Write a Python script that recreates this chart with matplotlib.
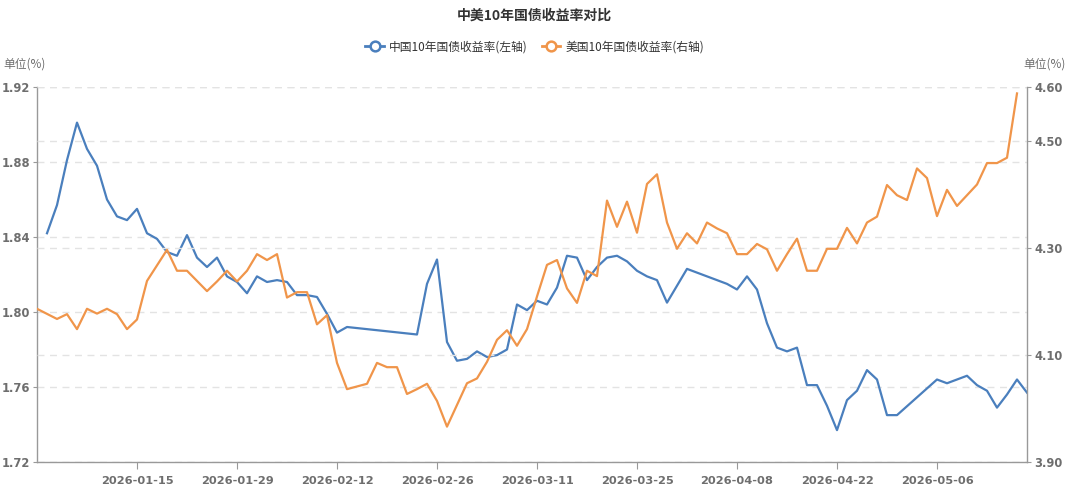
import numpy as np
import matplotlib
matplotlib.use("Agg")
import matplotlib.pyplot as plt
from matplotlib.lines import Line2D

plt.rcParams['font.family'] = ['Noto Sans CJK SC', 'DejaVu Sans']

# ------------------------------
# Datos (None = sin dato ese día)
# ------------------------------
fechas = [
    "2026-01-02", "2026-01-04", "2026-01-05", "2026-01-06", "2026-01-07", "2026-01-08", "2026-01-09",
    "2026-01-12", "2026-01-13", "2026-01-14", "2026-01-15", "2026-01-16", "2026-01-19", "2026-01-20",
    "2026-01-21", "2026-01-22", "2026-01-23", "2026-01-26", "2026-01-27", "2026-01-28", "2026-01-29",
    "2026-01-30", "2026-02-02", "2026-02-03", "2026-02-04", "2026-02-05", "2026-02-06", "2026-02-09",
    "2026-02-10", "2026-02-11", "2026-02-12", "2026-02-13", "2026-02-14", "2026-02-17", "2026-02-18",
    "2026-02-19", "2026-02-20", "2026-02-23", "2026-02-24", "2026-02-25", "2026-02-26", "2026-02-27",
    "2026-02-28", "2026-03-02", "2026-03-03", "2026-03-04", "2026-03-05", "2026-03-06", "2026-03-09",
    "2026-03-10", "2026-03-11", "2026-03-12", "2026-03-13", "2026-03-16", "2026-03-17", "2026-03-18",
    "2026-03-19", "2026-03-20", "2026-03-23", "2026-03-24", "2026-03-25", "2026-03-26", "2026-03-27",
    "2026-03-30", "2026-03-31", "2026-04-01", "2026-04-02", "2026-04-03", "2026-04-06", "2026-04-07",
    "2026-04-08", "2026-04-09", "2026-04-10", "2026-04-13", "2026-04-14", "2026-04-15", "2026-04-16",
    "2026-04-17", "2026-04-20", "2026-04-21", "2026-04-22", "2026-04-23", "2026-04-24", "2026-04-27",
    "2026-04-28", "2026-04-29", "2026-04-30", "2026-05-01", "2026-05-04", "2026-05-05", "2026-05-06",
    "2026-05-07", "2026-05-08", "2026-05-11", "2026-05-12", "2026-05-13", "2026-05-14", "2026-05-15",
    "2026-05-18", "2026-05-19",
]

china_10y = [
    None, 1.842, 1.857, 1.881, 1.901, 1.887, 1.878, 1.860, 1.851, 1.849,
    1.855, 1.842, 1.839, 1.832, 1.830, 1.841, 1.829, 1.824, 1.829, 1.819,
    1.816, 1.810, 1.819, 1.816, 1.817, 1.816, 1.809, 1.809, 1.808, 1.799,
    1.789, 1.792, None, None, None, None, None, None, 1.788, 1.815,
    1.828, 1.784, 1.774, 1.775, 1.779, 1.776, 1.777, 1.780, 1.804, 1.801,
    1.806, 1.804, 1.813, 1.830, 1.829, 1.817, 1.824, 1.829, 1.830, 1.827,
    1.822, 1.819, 1.817, 1.805, 1.814, 1.823, 1.821, 1.819, None, 1.815,
    1.812, 1.819, 1.812, 1.794, 1.781, 1.779, 1.781, 1.761, 1.761, 1.750,
    1.737, 1.753, 1.758, 1.769, 1.764, 1.745, 1.745, None, None, None,
    1.764, 1.762, 1.764, 1.766, 1.761, 1.758, 1.749, 1.756, 1.764, 1.757,
]

usa_10y = [
    4.186, None, 4.167, 4.176, 4.148, 4.186, 4.177, 4.186, 4.176, 4.148,
    4.166, 4.238, None, 4.296, 4.257, 4.257, 4.238, 4.219, 4.237, 4.257,
    4.237, 4.257, 4.288, 4.277, 4.288, 4.207, 4.217, 4.217, 4.157, 4.174,
    4.085, 4.036, None, 4.046, 4.085, 4.077, 4.077, 4.027, 4.036, 4.046,
    4.014, 3.966, None, 4.047, 4.056, 4.087, 4.128, 4.146, 4.117, 4.148,
    4.209, 4.268, 4.277, 4.224, 4.197, 4.257, 4.247, 4.388, 4.339, 4.386,
    4.328, 4.419, 4.437, 4.347, 4.298, 4.327, 4.308, 4.347, 4.336, 4.327,
    4.288, 4.288, 4.307, 4.297, 4.257, 4.288, 4.317, 4.257, 4.257, 4.298,
    4.298, 4.337, 4.308, 4.347, 4.358, 4.417, 4.398, 4.389, 4.448, 4.430,
    4.359, 4.408, 4.378, 4.398, 4.418, 4.458, 4.458, 4.468, 4.588, None,
]

etiquetas_x = ["2026-01-15", "2026-01-29", "2026-02-12", "2026-02-26", "2026-03-11",
               "2026-03-25", "2026-04-08", "2026-04-22", "2026-05-06"]

color_cn = "#4a7fbd"
color_us = "#f0954a"
gris = "#6e6e6e"

x = np.arange(len(fechas))
cn = np.array([np.nan if v is None else v for v in china_10y])
us = np.array([np.nan if v is None else v for v in usa_10y])
m_cn = ~np.isnan(cn)
m_us = ~np.isnan(us)

fig = plt.figure(figsize=(10.69, 5.04), dpi=100)
ax = fig.add_axes([37 / 1069, 42 / 504, 990 / 1069, 375 / 504])
ax2 = ax.twinx()

# lineas (los huecos se unen directamente)
ax.plot(x[m_cn], cn[m_cn], color=color_cn, lw=1.6, zorder=3)
ax2.plot(x[m_us], us[m_us], color=color_us, lw=1.6, zorder=3)

ax.set_xlim(0, len(fechas) - 1)
ax.set_ylim(1.72, 1.92)
ax.set_yticks([1.72, 1.76, 1.80, 1.84, 1.88, 1.92])
ax.set_yticklabels(["1.72", "1.76", "1.80", "1.84", "1.88", "1.92"])
ax2.set_ylim(3.90, 4.60)
ax2.set_yticks([3.90, 4.10, 4.30, 4.50, 4.60])
ax2.set_yticklabels(["3.90", "4.10", "4.30", "4.50", "4.60"])

pos_x = [fechas.index(f) for f in etiquetas_x]
ax.set_xticks(pos_x)
ax.set_xticklabels(etiquetas_x)

# rejilla discontinua de ambos ejes
ax.grid(axis='y', color='#e3e3e3', linestyle=(0, (5, 4)), lw=1)
ax2.grid(axis='y', color='#e3e3e3', linestyle=(0, (5, 4)), lw=1)
ax.set_axisbelow(True)
ax2.set_axisbelow(True)

for a in (ax, ax2):
    a.spines['top'].set_visible(False)
    for s in ('left', 'right', 'bottom'):
        a.spines[s].set_color('#999999')
        a.spines[s].set_linewidth(1)
ax.spines['right'].set_visible(False)
ax2.spines['left'].set_visible(False)
ax2.spines['bottom'].set_visible(False)

ax.tick_params(axis='y', length=3, color='#999999', labelcolor=gris, labelsize=8.3, pad=2)
ax2.tick_params(axis='y', length=3, color='#999999', labelcolor=gris, labelsize=8.3, pad=2)
ax.tick_params(axis='x', length=5, color='#999999', labelcolor=gris, labelsize=8.2, pad=5)
for lbl in ax.get_yticklabels() + ax2.get_yticklabels() + ax.get_xticklabels():
    lbl.set_fontweight('bold')
    lbl.set_family(['DejaVu Sans'])

# titulo, leyenda y unidades
fig.text(0.5, 1 - 16 / 504, "中美10年国债收益率对比", ha='center', va='center',
         fontsize=10, fontweight='bold', color='#333333')

handles = [
    Line2D([], [], color=color_cn, lw=2, marker='o', markersize=7,
           markerfacecolor='white', markeredgecolor=color_cn, markeredgewidth=1.8),
    Line2D([], [], color=color_us, lw=2, marker='o', markersize=7,
           markerfacecolor='white', markeredgecolor=color_us, markeredgewidth=1.8),
]
fig.legend(handles, ["中国10年国债收益率(左轴)", "美国10年国债收益率(右轴)"],
           loc='center', bbox_to_anchor=(0.5, 1 - 47 / 504), ncol=2, frameon=False,
           fontsize=8.5, handlelength=1.6, handletextpad=0.4, columnspacing=1.2,
           labelcolor='#333333')

fig.text(3 / 1069, 1 - 64 / 504, "单位(%)", ha='left', va='center', fontsize=8.5, color=gris)
fig.text(1066 / 1069, 1 - 64 / 504, "单位(%)", ha='right', va='center', fontsize=8.5, color=gris)

fig.savefig("out.png", dpi=100)
